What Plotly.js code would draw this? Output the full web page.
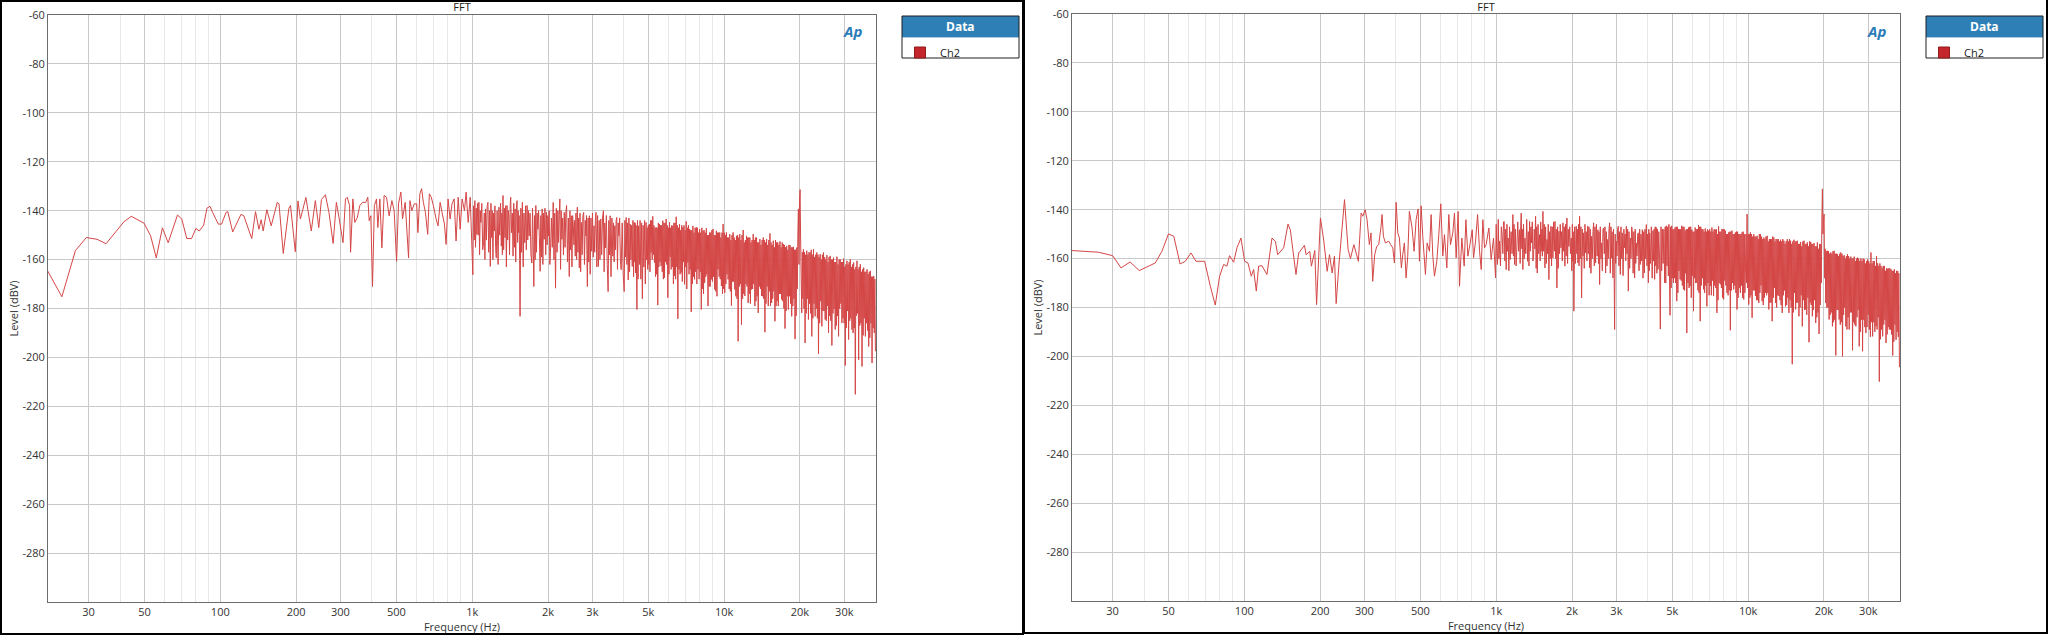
<!DOCTYPE html>
<html>
<head>
<meta charset="utf-8">
<script src="https://cdn.plot.ly/plotly-3.0.1.min.js"></script>
<style>
  html, body { margin:0; padding:0; background:#fff; overflow:hidden; }
  #wrap { position:relative; width:2048px; height:635px; }
  .panel { position:absolute; top:0; width:1024px; height:635px; }
  .frame { position:absolute; pointer-events:none; box-sizing:border-box; border:0 solid #000; }
</style>
</head>
<body>
<div id="wrap">
  <div id="left" class="panel" style="left:0"></div>
  <div id="right" class="panel" style="left:1024px"></div>
  <div class="frame" style="left:0;top:0;width:1024px;height:635px;border-width:2px 2px 2px 2px"></div>
  <div class="frame" style="left:1024px;top:0;width:1024px;height:634px;border-width:0 2px 2px 1px"></div>
</div>
<script>
// values (Hz, dBV)

// left plot, 20 Hz .. 4.6 kHz
var leftLowFreq = [
  20.5, 23.5, 26.6, 29.4, 32.4, 35.2, 41.4, 44.3, 49.8, 52.9,
  55.7, 58.9, 62.1, 67.6, 70.3, 73.6, 76.9, 80, 82.5, 85.9,
  88.5, 91, 93.2, 98.2, 101.2, 105.4, 107.1, 112, 120.8, 124,
  133.3, 138, 142.3, 145.3, 148, 153, 159.3, 168.3, 171, 177.8,
  187.2, 190, 198.5, 203.4, 208, 218.7, 229.7, 238.4, 246, 252,
  261.4, 270, 280.5, 289,
  296, 307, 314, 319, 326, 329, 336, 342, 350, 358,
  367, 378, 385, 390, 396, 402, 409, 417, 422, 430,
  438, 447, 457, 468, 480, 490, 501, 510, 521, 529,
  542, 559, 566, 576, 589, 602, 609, 620, 630, 640,
  652, 666, 676, 688, 701, 719, 732, 746, 759, 776,
  788, 802, 817, 832, 848, 863, 880, 896, 912, 932,
  946, 964, 982, 1006, 1025, 1044, 1063, 1083, 1110, 1130,
  1155, 1180, 1201, 1224, 1246, 1277, 1305, 1325, 1350, 1375,
  1400, 1422, 1453, 1480, 1507, 1530, 1549, 1582, 1617, 1652,
  1683, 1725, 1757, 1789, 1822, 1861, 1896, 1931, 1972, 2009,
  2046, 2097, 2142, 2189, 2229, 2270, 2320, 2370, 2429, 2474,
  2520, 2566, 2614, 2662, 2712, 2771, 2831, 2866, 2919, 2982,
  3046, 3102, 3170, 3239, 3319, 3381, 3465, 3529, 3616, 3683,
  3751, 3821, 3904, 4013, 4087, 4164, 4241, 4320, 4400, 4454,
  4508, 4578
];
var leftLowLevel = [
  -164.1, -175.2, -156.3, -151, -151.7, -153.5, -144.6, -142.3, -145.1, -150.3,
  -159.3, -147, -153.1, -141.8, -143.4, -151.4, -151.4, -147.3, -148.3, -145.9,
  -139, -138.2, -140.7, -145.5, -145.5, -140.7, -140.4, -148.7, -141.5, -142.1,
  -151.4, -140.4, -147.6, -143.7, -148.3, -139.6, -146.2, -136.6, -137.2, -157.5,
  -139, -137.9, -156.8, -136, -143.4, -134.6, -148.3, -135.9, -146.9, -135.5,
  -133.5, -140.7, -153.4, -136.6,
  -142.8, -153.1, -135.2, -134.5, -137.9, -157, -135.2, -144.8, -142.8, -137.9,
  -136.6, -136.6, -134.5, -144.1, -142.1, -171, -137.9, -135.2, -146.9, -135.2,
  -155.2, -133.8, -134.5, -142.1, -135.9, -140, -160.7, -137.2, -132.4, -143.4,
  -136.6, -159.3, -135.9, -140, -137.2, -137.2, -149, -133.1, -131, -136.6,
  -140.7, -149.7, -133.1, -134.5, -137.9, -143.4, -146.2, -136.6, -140.7, -145.5,
  -153.8, -135.2, -143.4, -137.2, -135.2, -152.4, -134.5, -147.6, -135.2, -140,
  -132.4, -144.8, -134.5, -166.2, -135.9, -149.7, -136.6, -144.8, -153.1, -139.3,
  -136.6, -162.8, -140, -148.3, -159.3, -138.6, -154.5, -133.8, -151, -137.9,
  -143.4, -134.5, -158.6, -139.3, -135.9, -149, -183.2, -136.6, -153.1, -137.9,
  -150.3, -161.4, -171, -137.9, -147.6, -164.8, -139.3, -151.7, -140.7, -150.3,
  -156.6, -136.6, -171.7, -140, -135.2, -151.7, -140.7, -137.9, -166.9, -142.1,
  -146.2, -158.6, -138.6, -163.4, -144.8, -140.7, -150.3, -171, -142.1, -156.6,
  -146.2, -140.7, -162.8, -143.4, -140, -155.2, -173.1, -142.1, -158.6, -146.2,
  -142.8, -150.3, -164.1, -173.1, -142.8, -168.3, -145.5, -162.8, -144.8, -165.5,
  -180.4, -146.2
];
// left plot, extra columns in the dense 1 kHz .. 4.9 kHz part
var leftMidFreq = [
  1012, 1019, 1031, 1038, 1050, 1057, 1070, 1076, 1092, 1101,
  1117, 1123, 1138, 1147, 1163, 1172, 1187, 1194, 1209, 1216,
  1231, 1239, 1256, 1267, 1286, 1296, 1312, 1318, 1333, 1342,
  1358, 1367, 1383, 1392, 1407, 1415, 1432, 1443, 1462, 1471,
  1489, 1498, 1515, 1522, 1536, 1543, 1560, 1571, 1594, 1605,
  1629, 1640, 1662, 1673, 1697, 1711, 1736, 1746, 1768, 1778,
  1800, 1811, 1835, 1848, 1873, 1884, 1908, 1919, 1945, 1958,
  1984, 1997, 2021, 2034, 2063, 2080, 2112, 2127, 2158, 2173,
  2202, 2216, 2243, 2256, 2287, 2303, 2337, 2353, 2390, 2409,
  2444, 2459, 2489, 2505, 2535, 2551, 2582, 2598, 2630, 2646,
  2679, 2695, 2732, 2751, 2791, 2811, 2843, 2854, 2884, 2901,
  2940, 2961, 3003, 3025, 3065, 3083, 3125, 3147, 3193, 3216,
  3266, 3292, 3340, 3360, 3409, 3437, 3486, 3508, 3558, 3587,
  3638, 3661, 3706, 3728, 3774, 3798, 3849, 3876, 3940, 3977,
  4038, 4062, 4113, 4138, 4190, 4215, 4267, 4294, 4347, 4373,
  4418, 4436, 4472, 4490, 4531, 4555,
  4610, 4640, 4672, 4705, 4738, 4770, 4803, 4836, 4868
];
var leftMidLevel = [
  -138, -152, -155, -139, -137, -150, -158, -140, -137, -156,
  -141, -160, -152, -138, -157, -140, -137, -151, -160, -141,
  -138, -155, -140, -162, -150, -137, -141, -158, -156, -139,
  -138, -163, -152, -140, -158, -138, -149, -141, -137, -155,
  -161, -139, -153, -140, -142, -160, -139, -157, -163, -141,
  -138, -156, -152, -140, -141, -158, -139, -153, -142, -160,
  -157, -141, -140, -151, -142, -159, -162, -141, -139, -158,
  -154, -142, -140, -162, -143, -155, -160, -141, -139, -157,
  -153, -142, -164, -140, -143, -158, -155, -141, -161, -143,
  -140, -156, -163, -142, -154, -144, -141, -160, -157, -143,
  -141, -165, -158, -142, -162, -144, -142, -158, -143, -161,
  -166, -143, -141, -159, -157, -144, -163, -142, -144, -160,
  -158, -143, -165, -145, -142, -162, -144, -158, -167, -143,
  -145, -161, -156, -144, -164, -145, -143, -160, -145, -166,
  -144, -159, -162, -145, -143, -165, -160, -146, -144, -167,
  -161, -145, -146, -163, -144, -168,
  -162, -144, -168, -145, -176, -146, -163, -144, -170
];

// right plot, 20 Hz .. 4.8 kHz
var rightLowFreq = [
  20.5, 26.4, 30, 32.4, 35.2, 38.3, 44.3, 47.1, 50, 52.5,
  55.6, 58.3, 61.4, 64.3, 69.6, 73.3, 76.7, 79.8, 82.8, 85.3,
  87.4, 90.7, 93.5, 97, 100.3, 103.4, 106.6, 108.9, 111.6, 114,
  117.5, 123, 128.8, 132.8, 135.7, 143.3, 149.1, 152.3, 160.4, 164.4,
  173.3, 175.9, 181.9, 184.7, 190.5, 193.6, 200.6, 206.9, 213.3, 217.9,
  223.3, 228, 231.6, 237.3, 249.9, 258.3, 263.9, 272.3, 283.7,
  291, 295.5, 301.8, 307.1, 313.7, 318.5, 323.4, 329.4, 335.5, 341.7,
  349.1, 352.3, 356.7, 363.3, 374.5, 381.4, 388.5, 394.5, 400.6, 406.7,
  412.8, 420.4, 425.6, 432.1, 438.8, 445.5, 452.3, 463.6, 472.1, 480.9,
  489.8, 495.8, 503.4, 511.2, 523.8, 532, 543.4, 551.7, 560.2, 568.8,
  581.1, 591.8, 602.7, 613.9, 623.4, 636.8, 648.5, 658.5, 672.7, 683,
  693.5, 706.3, 715, 730.5, 746.3, 758, 772, 788.7, 803.2, 813,
  828.1, 843.6, 859.1, 872.2, 885.2, 898.8, 912.6, 935.1, 955.3, 976,
  994.1, 1012.3, 1031, 1056.5, 1075.8, 1095.8, 1116, 1136.8, 1165, 1182.8,
  1208.3, 1238.2, 1257.2, 1276.5, 1300.1, 1332.5, 1357, 1382, 1407.5, 1433.6,
  1455.7, 1487, 1509.8, 1533, 1561.7, 1590.4, 1619.1, 1649, 1679.5, 1711.3,
  1741.9, 1774.3, 1807.4, 1840.6, 1874, 1908.6, 1943.9, 1985.8, 2016.3, 2034.7,
  2078.7, 2111.2, 2143.4, 2183.1, 2223.5, 2264.6, 2306.1, 2349, 2392.3, 2436.7,
  2481.8, 2535, 2574, 2621.6, 2670, 2719.2, 2769.4, 2820.6, 2873.4, 2908.4,
  2952.5, 2998, 3053.5, 3109.8, 3167.1, 3235.4, 3285.2, 3346.7, 3408.1, 3470.8,
  3545.8, 3600.3, 3668.3, 3734, 3803.5, 3874.4, 3945.6, 4018.6, 4068,
  4193, 4257, 4323, 4390, 4484, 4567, 4665, 4737, 4825
];
var rightLowLevel = [
  -156.7, -157.4, -158.8, -163.8, -161.4, -164.9, -161.8, -157, -149.9, -150.9,
  -162.2, -161.1, -157.7, -161.1, -161.1, -171.3, -179, -167.2, -162.4, -163.1,
  -158.8, -161.5, -155.6, -151.6, -161.1, -161.8, -167.2, -164.5, -173.3, -163.1,
  -162.9, -166.5, -151.6, -152.9, -158.4, -155.6, -145.9, -148.2, -166.5, -157.7,
  -154.6, -158.4, -157, -163.1, -156.7, -178.8, -143.4, -152.9, -165.2, -158.4,
  -165.9, -159, -178.4, -163.1, -135.9, -156.3, -160, -154.3, -161.1,
  -141.4, -142.7, -140, -144.1, -154.3, -149.5, -169.3, -158.4, -155, -154.3,
  -146.8, -142, -150.9, -153.6, -152.9, -154.3, -155.6, -161.8, -137, -149.5,
  -151.6, -163.8, -158.4, -153.6, -167.9, -159, -140.7, -147.5, -157, -144.1,
  -139.7, -161.1, -138.4, -150.9, -166.5, -153.6, -157, -142, -159, -167.2,
  -161.1, -150.2, -137.6, -159, -150.2, -163.8, -142, -154.3, -149.5, -141.4,
  -159.7, -140.7, -171.3, -151.6, -163.1, -144.1, -159, -153.6, -148.2, -159.7,
  -152.9, -142, -157, -164.5, -144.1, -155.6, -154.3, -147.5, -160.4, -151.6,
  -167.9, -162.4, -152.9, -150.9, -144.8, -164.5, -151.6, -160.4, -142, -162.4,
  -155, -148.2, -141.4, -164.5, -151.6, -161.1, -144.8, -153.6, -159, -142.7,
  -165.9, -150.2, -157, -140.7, -163.8, -152.2, -168.6, -146.8, -159.7, -144.8,
  -172, -148.8, -155.6, -145.4, -163.1, -143.4, -155, -151.6, -161.1, -181.5,
  -146.8, -161.8, -142.7, -176.1, -149.5, -157.7, -146.8, -163.8, -150.9, -145.4,
  -161.8, -148.2, -170.6, -153.6, -147.5, -165.9, -152.2, -145.4, -159.7, -167.9,
  -189, -152.9, -146.8, -166.5, -149.5, -155.6, -146.8, -173.3, -151.6, -148.8,
  -167.9, -153.6, -149.5, -162.4, -148.2, -165.9, -146.1, -169.9, -149.5,
  -148.6, -168.5, -147.3, -164.4, -188.8, -147.9, -169.9, -146.6, -167.1
];
// right plot, extra columns in the dense 1 kHz .. 4.9 kHz part
var rightMidFreq = [
  1000, 1006, 1019, 1025, 1040, 1048, 1063, 1069, 1082, 1089,
  1103, 1109, 1123, 1130, 1146, 1156, 1171, 1177, 1191, 1200,
  1218, 1228, 1245, 1251, 1264, 1270, 1284, 1292, 1311, 1322,
  1341, 1349, 1365, 1374, 1391, 1399, 1416, 1425, 1441, 1448,
  1466, 1476, 1495, 1502, 1518, 1525, 1543, 1552, 1571, 1581,
  1600, 1609, 1629, 1639, 1659, 1669, 1690, 1701, 1722, 1732,
  1753, 1763, 1785, 1796, 1818, 1830, 1852, 1863, 1886, 1897,
  1920, 1932, 1958, 1972, 1996, 2006, 2022, 2028, 2049, 2064,
  2090, 2100, 2122, 2133, 2157, 2170, 2197, 2210, 2237, 2251,
  2278, 2292, 2320, 2335, 2363, 2378, 2407, 2422, 2452, 2467,
  2500, 2517, 2548, 2561, 2590, 2606, 2638, 2654, 2686, 2703,
  2736, 2753, 2786, 2804, 2838, 2856, 2885, 2897, 2923, 2938,
  2968, 2983, 3017, 3035, 3072, 3091, 3129, 3148, 3190, 3213,
  3252, 3269, 3306, 3326, 3367, 3388, 3429, 3450, 3496, 3521,
  3564, 3582, 3623, 3646, 3690, 3712, 3757, 3780, 3827, 3851,
  3898, 3922, 3970, 3994, 4035, 4052,
  4099, 4130, 4162,
  4214, 4236, 4279, 4301, 4345, 4368, 4421, 4453, 4512, 4539,
  4600, 4632, 4689, 4713, 4766, 4796, 4850, 4876
];
var rightMidLevel = [
  -146, -158, -144, -160, -163, -147, -158, -145, -161, -148,
  -146, -157, -165, -147, -149, -158, -159, -146, -148, -163,
  -145, -157, -162, -147, -156, -148, -146, -160, -158, -144,
  -149, -163, -157, -147, -145, -161, -148, -156, -164, -147,
  -146, -158, -161, -145, -148, -159, -157, -146, -147, -162,
  -158, -146, -149, -160, -163, -147, -145, -157, -160, -148,
  -147, -164, -158, -146, -149, -161, -157, -147, -146, -159,
  -162, -148, -147, -158, -165, -146, -149, -160, -147, -162,
  -158, -148, -146, -163, -160, -147, -148, -159, -164, -146,
  -149, -161, -158, -147, -148, -166, -160, -149, -163, -147,
  -146, -159, -162, -149, -147, -160, -165, -148, -158, -147,
  -149, -163, -160, -148, -166, -147, -149, -161, -148, -164,
  -150, -162, -159, -148, -163, -149, -147, -160, -167, -148,
  -150, -161, -158, -148, -149, -164, -160, -147, -166, -149,
  -148, -162, -159, -150, -165, -148, -150, -161, -168, -149,
  -148, -160, -163, -150, -148, -165,
  -162, -147, -168,
  -161, -148, -147, -163, -166, -148, -149, -160, -147, -165,
  -162, -148, -147, -170, -163, -147, -146, -168
];

// dense upper band, 4.9 kHz .. 40 kHz: three interleaved column sets, read on both plots
var bandFreq = [
  4901, 4977, 5053, 5131, 5210, 5291, 5372, 5455, 5539, 5624,
  5712, 5800, 5889, 5980, 6072, 6166, 6261, 6357, 6455, 6555,
  6655, 6758, 6862, 6968, 7075, 7184, 7295, 7407, 7521, 7637,
  7757, 7876, 7998, 8121, 8246, 8374, 8503, 8634, 8767, 8902,
  9040, 9179, 9321, 9465, 9611, 9759, 9909, 10062, 10217, 10375,
  10534, 10697, 10862, 11029, 11199, 11372, 11547, 11725, 11906, 12089,
  12275, 12464, 12657, 12852, 13050, 13251, 13456, 13663, 13874, 14088,
  14304, 14525, 14749, 14976, 15207, 15442, 15680, 15921, 16167, 16416,
  16672, 16929, 17190, 17455, 17724, 17998, 18275, 18557, 18843, 19134,
  19428, 19728, 20032, 20341, 20654, 20973, 21296, 21625, 21958, 22297,
  22643, 22992, 23346, 23706, 24072, 24443, 24820, 25202, 25591, 25985,
  26383, 26790, 27203, 27623, 28049, 28481, 28920, 29366, 29819, 30279,
  30748, 31222, 31703, 32192, 32689, 33193, 33704, 34224, 34752, 35288,
  35832, 36385, 36946, 37515, 38094, 38681, 39278, 39883
];
var bandFreqB = [
  4926, 5002, 5079, 5157, 5237, 5318, 5399, 5483, 5567, 5653,
  5741, 5830, 5919, 6011, 6103, 6197, 6293, 6389, 6488, 6588,
  6689, 6792, 6897, 7004, 7111, 7221, 7332, 7445, 7559, 7676,
  7797, 7916, 8039, 8162, 8288, 8417, 8546, 8678, 8812, 8947,
  9086, 9226, 9369, 9513, 9660, 9809, 9960, 10113, 10269, 10428,
  10588, 10752, 10917, 11085, 11256, 11430, 11606, 11785, 11967, 12151,
  12338, 12528, 12722, 12918, 13117, 13319, 13525, 13733, 13945, 14160,
  14377, 14599, 14824, 15052, 15285, 15521, 15760, 16002, 16249, 16500,
  16757, 17015, 17278, 17544, 17814, 18090, 18368, 18652, 18939, 19232,
  19527, 19829, 20134, 20445, 20759, 21080, 21405, 21735, 22070, 22411,
  22758, 23109, 23465, 23827, 24195, 24568, 24947, 25331, 25722, 26118,
  26518, 26927, 27342, 27764, 28192, 28626, 29068, 29516, 29971, 30433,
  30905, 31381, 31865, 32356, 32856, 33362, 33876, 34399, 34929, 35468,
  36015, 36571, 37134, 37706, 38288, 38878, 39478
];
var bandFreqC = [
  4951, 5028, 5105, 5184, 5264, 5345, 5427, 5511, 5596, 5682,
  5771, 5860, 5950, 6041, 6134, 6229, 6325, 6422, 6521, 6622,
  6723, 6827, 6932, 7040, 7148, 7258, 7370, 7483, 7598, 7715,
  7837, 7957, 8080, 8204, 8331, 8460, 8590, 8723, 8857, 8993,
  9133, 9273, 9417, 9562, 9710, 9859, 10011, 10165, 10322, 10482,
  10642, 10807, 10973, 11142, 11314, 11489, 11666, 11845, 12028, 12213,
  12401, 12592, 12787, 12984, 13184, 13387, 13594, 13803, 14017, 14233,
  14451, 14674, 14900, 15130, 15363, 15600, 15841, 16085, 16333, 16585,
  16843, 17103, 17367, 17634, 17906, 18183, 18463, 18748, 19037, 19331,
  19628, 19931, 20238, 20550, 20866, 21189, 21515, 21848, 22184, 22526,
  22876, 23228, 23586, 23950, 24320, 24694, 25075, 25461, 25855, 26252,
  26655, 27066, 27483, 27908, 28338, 28774, 29218, 29668, 30126, 30590,
  31065, 31543, 32030, 32524, 33026, 33535, 34051, 34576, 35110, 35651,
  36201, 36760, 37326, 37902, 38487, 39080, 39683
];
var leftBandLevel = [
  -144.8, -164, -145.5, -157.1, -142.3, -161.2, -146.8, -178.6, -145.5, -162.6,
  -144.1, -167.4, -143.4, -175.6, -144.8, -164, -146.2, -166.7, -142.5, -184.2,
  -145.5, -165.3, -146.8, -170.1, -144.4, -161.2, -147.5, -181.4, -146.2, -168.1,
  -146.8, -164, -147.5, -180.4, -148.2, -169.5, -147.2, -179, -148.9, -168.1,
  -147.5, -172.2, -148.2, -164, -148.9, -170.8, -145.5, -173.6, -148.9, -168.1,
  -149.6, -178.8, -148.9, -172.2, -150.3, -193.4, -149.6, -186.6, -147.9, -174.9,
  -150.3, -177.7, -151, -172.2, -149.6, -179, -151, -181.8, -151.6, -174.9,
  -151, -189.7, -151.6, -179, -149.3, -177.7, -152.3, -185.2, -153, -179,
  -152.6, -176.3, -153.7, -188.2, -154.4, -180.4, -154.1, -183.2, -154.8, -192.5,
  -155.1, -139.3, -131.4, -181.8, -155.8, -194.1, -156.4, -184.5, -157.1, -191.4,
  -155.8, -183.2, -157.1, -198.6, -157.8, -187.3, -157.1, -184.5, -158.2, -190,
  -158.5, -195.1, -159.2, -188.6, -158.8, -191.4, -159.9, -185.9, -159.6, -203.3,
  -160.5, -192.7, -159.9, -188.6, -161.2, -215.1, -160.5, -201, -161.9, -203.7,
  -163.3, -191.4, -164, -195.5, -164.6, -202.3, -166.7, -197.5
];
var leftBandB = [
  -160, -146, -165, -144, -158, -147, -166, -145, -161, -146,
  -168, -145, -162, -147, -159, -146, -170, -145, -163, -147,
  -166, -146, -161, -148, -172, -146, -164, -148, -167, -147,
  -170, -149, -165, -147, -174, -149, -166, -150, -171, -148,
  -167, -150, -175, -149, -168, -149, -172, -150, -166, -151,
  -173, -150, -169, -152, -176, -151, -170, -150, -174, -152,
  -171, -151, -178, -152, -170, -151, -175, -153, -172, -152,
  -176, -153, -171, -152, -179, -154, -173, -152, -177, -154,
  -174, -153, -180, -155, -175, -154, -178, -155, -176, -156,
  -172, -162, -152, -157, -180, -158, -176, -157, -182, -158,
  -178, -158, -184, -159, -177, -158, -181, -160, -179, -159,
  -185, -160, -180, -161, -183, -160, -178, -161, -186, -162,
  -181, -161, -184, -162, -188, -163, -182, -163, -186, -164,
  -184, -165, -189, -165, -186, -167, -190
];
var leftBandC = [
  -147, -162, -144, -160, -146, -167, -147, -163, -146, -165,
  -145, -161, -146, -166, -147, -163, -145, -168, -146, -164,
  -148, -169, -146, -163, -147, -166, -148, -170, -149, -165,
  -147, -168, -149, -172, -148, -167, -150, -171, -149, -169,
  -150, -173, -149, -167, -151, -174, -149, -170, -151, -172,
  -152, -169, -151, -175, -150, -171, -152, -176, -153, -170,
  -151, -174, -153, -172, -152, -177, -153, -171, -154, -175,
  -152, -178, -154, -173, -153, -176, -155, -179, -153, -174,
  -155, -177, -154, -181, -156, -175, -155, -179, -156, -183,
  -150, -136, -168, -176, -157, -182, -158, -178, -156, -184,
  -159, -180, -158, -186, -160, -181, -159, -185, -161, -183,
  -160, -182, -161, -187, -162, -180, -161, -184, -163, -188,
  -162, -185, -163, -190, -164, -183, -164, -187, -165, -191,
  -165, -186, -166, -192, -167, -188, -168
];
var rightBandLevel = [
  -183.2, -146.6, -169.9, -147.3, -177.4, -147.9, -168.5, -146.6, -172.6, -148.6,
  -190.4, -147.3, -171.2, -148.2, -181.5, -147.3, -169.9, -146.3, -185.6, -147.9,
  -172.6, -147.7, -179.5, -148.6, -171.2, -147.3, -175.3, -148.2, -182.2, -146.8,
  -170.5, -147.9, -176.7, -148.6, -174, -149.3, -189.3, -148.6, -172.6, -149.3,
  -180.8, -150, -174, -149.3, -176.7, -166, -141.8, -178.8, -149.3, -184.2,
  -150, -175.3, -150.7, -178.1, -150, -177.4, -151.4, -174, -150.7, -180.8,
  -152.1, -185.6, -151.4, -178.1, -152.1, -175.3, -152.3, -182.2, -152.7, -179.5,
  -152.1, -182.2, -152.7, -203.2, -152.3, -180.8, -152.7, -183.6, -153.2, -187.7,
  -152.7, -180.8, -153.4, -194.2, -153.2, -183.6, -153.7, -186.3, -153.4, -190.8,
  -154.1, -131.5, -141.8, -178.1, -156.8, -184.9, -157.5, -187.7, -156.8, -199.6,
  -158.2, -184.9, -157.5, -200, -158.6, -187.7, -158.2, -189, -159.2, -197.5,
  -159.2, -187.7, -159.6, -195.9, -160, -197.9, -160.3, -190.4, -160.3, -189,
  -157.5, -191.8, -161, -187.7, -161.9, -210.3, -163, -191.8, -163, -194.5,
  -164.1, -189, -164.4, -199.6, -164.4, -193.2, -165.1, -204.4
];
var rightBandB = [
  -147, -168, -148, -170, -147, -165, -148, -171, -147, -166,
  -148, -172, -147, -167, -149, -170, -148, -174, -147, -168,
  -149, -171, -148, -175, -149, -169, -148, -172, -150, -170,
  -149, -176, -148, -171, -150, -173, -149, -170, -150, -174,
  -149, -172, -150, -176, -150, -150, -172, -150, -175, -151,
  -173, -151, -177, -150, -171, -152, -176, -151, -174, -152,
  -178, -151, -172, -152, -175, -153, -179, -152, -173, -153,
  -176, -152, -180, -153, -174, -153, -178, -154, -175, -153,
  -181, -154, -176, -153, -179, -154, -177, -155, -182, -154,
  -170, -150, -168, -157, -180, -158, -182, -157, -185, -158,
  -181, -158, -186, -159, -180, -159, -184, -160, -182, -160,
  -187, -160, -181, -161, -185, -160, -188, -161, -183, -162,
  -186, -161, -190, -159, -184, -162, -189, -163, -185, -164,
  -188, -164, -191, -165, -187, -165, -192
];
var rightBandC = [
  -172, -148, -168, -147, -174, -148, -169, -147, -173, -148,
  -170, -147, -176, -149, -168, -148, -173, -147, -171, -148,
  -174, -149, -170, -148, -175, -149, -171, -148, -177, -149,
  -172, -148, -169, -150, -175, -149, -173, -150, -171, -149,
  -176, -150, -171, -149, -174, -170, -150, -176, -150, -173,
  -151, -177, -152, -174, -151, -179, -152, -175, -153, -178,
  -152, -176, -153, -180, -152, -177, -153, -175, -154, -179,
  -153, -177, -154, -182, -153, -178, -154, -180, -155, -177,
  -154, -183, -155, -178, -154, -181, -155, -184, -156, -179,
  -145, -145, -156, -180, -157, -183, -158, -186, -158, -181,
  -159, -187, -158, -183, -160, -189, -159, -182, -160, -186,
  -161, -184, -160, -190, -161, -185, -162, -188, -161, -192,
  -162, -186, -163, -189, -163, -193, -164, -187, -165, -191,
  -164, -189, -165, -194, -166, -190, -166
];

var freqTicks = [30, 50, 100, 200, 300, 500, 1000, 2000, 3000, 5000, 10000, 20000, 30000];
var freqTickText = ['30', '50', '100', '200', '300', '500', '1k', '2k', '3k', '5k', '10k', '20k', '30k'];
var freqMinor = [40, 60, 70, 80, 90, 400, 600, 700, 800, 900, 4000, 6000, 7000, 8000, 9000];
var levelTicks = [-60, -80, -100, -120, -140, -160, -180, -200, -220, -240, -260, -280];
var levelTickText = ['-60', '-80', '-100', '-120', '-140', '-160', '-180', '-200', '-220', '-240', '-260', '-280'];
var seriesName = 'Ch2';
var plotTitle = 'FFT';

var ML = 48, PW = 828, PH = 587, FH = 635;

// put the column sets of one plot together, ordered by frequency
function joinColumns(freqSets, levelSets) {
  var pts = [];
  for (var s = 0; s < freqSets.length; s++) {
    for (var i = 0; i < freqSets[s].length; i++) pts.push([freqSets[s][i], levelSets[s][i]]);
  }
  pts.sort(function(a, b) { return a[0] - b[0]; });
  return {x: pts.map(function(p) { return p[0]; }), y: pts.map(function(p) { return p[1]; })};
}

function makePanel(id, data, top) {
  function px(x) { return (x - ML) / PW; }
  function py(y) { return 1 - (y - top) / PH; }

  var trace = {
    x: data.x, y: data.y, type: 'scatter', mode: 'lines',
    line: {color: 'rgb(212,70,70)', width: 1, simplify: false},
    showlegend: false, hoverinfo: 'skip'
  };
  // legend swatch only (square like the AP legend)
  var key = {
    x: [null], y: [null], type: 'scatter', mode: 'markers', name: seriesName,
    marker: {symbol: 'square', size: 11, color: '#c4262b', line: {color: '#8e1b1f', width: 1}}
  };

  var layout = {
    width: 1024, height: FH,
    margin: {l: ML, r: 1024 - ML - PW, t: top, b: FH - top - PH, pad: 0},
    paper_bgcolor: '#fff', plot_bgcolor: '#fff',
    font: {family: '"Open Sans", "Noto Sans", sans-serif', size: 11, color: '#333'},
    title: {text: plotTitle, x: 0.5, xref: 'paper', xanchor: 'center',
            y: 1 - 7 / FH, yref: 'container', yanchor: 'middle',
            font: {size: 11, color: '#222'}},
    xaxis: {
      type: 'log', range: [Math.log10(20.7), Math.log10(40100)],
      tickmode: 'array', tickvals: freqTicks, ticktext: freqTickText,
      ticks: '', showgrid: true, gridcolor: '#c9c9c9', gridwidth: 1,
      minor: {tickmode: 'array', tickvals: freqMinor, showgrid: true, gridcolor: '#e8e8e8', ticks: ''},
      showline: true, linecolor: '#6c6c6c', linewidth: 1, mirror: true, zeroline: false,
      tickfont: {size: 11, color: '#333'},
      title: {text: 'Frequency (Hz)', font: {size: 11, color: '#333'}, standoff: 2}
    },
    yaxis: {
      range: [-300, -60], tickmode: 'array', tickvals: levelTicks, ticktext: levelTickText,
      ticks: '', showgrid: true, gridcolor: '#c9c9c9', gridwidth: 1,
      showline: true, linecolor: '#6c6c6c', linewidth: 1, mirror: true, zeroline: false,
      tickfont: {size: 11, color: '#333'},
      title: {text: 'Level (dBV)', font: {size: 11, color: '#333'}, standoff: 1}
    },
    showlegend: true,
    legend: {x: px(900), y: py(38), xanchor: 'left', yanchor: 'top',
             bgcolor: 'rgba(0,0,0,0)', borderwidth: 0, itemsizing: 'trace',
             font: {size: 11, color: '#222'}},
    shapes: [
      {type: 'rect', xref: 'paper', yref: 'paper', x0: px(902), x1: px(1019), y0: py(16), y1: py(37),
       fillcolor: '#2f7fb7', line: {width: 0}},
      {type: 'line', xref: 'paper', yref: 'paper', x0: px(902), x1: px(1019), y0: py(37.5), y1: py(37.5),
       line: {color: '#a9cbe5', width: 1}},
      {type: 'rect', xref: 'paper', yref: 'paper', x0: px(902), x1: px(1019), y0: py(16), y1: py(58),
       line: {color: '#1e1e1e', width: 1}}
    ],
    annotations: [
      {text: '<b>Data</b>', xref: 'paper', yref: 'paper', x: px(960.5), y: py(26.5),
       xanchor: 'center', yanchor: 'middle', showarrow: false, font: {size: 12, color: '#fff'}},
      {text: '<b><i>Ap</i></b>', xref: 'paper', yref: 'paper', x: px(852), y: py(31),
       xanchor: 'center', yanchor: 'middle', showarrow: false, font: {size: 15, color: '#2c7cb8'}}
    ]
  };

  Plotly.newPlot(id, [trace, key], layout, {staticPlot: true, displayModeBar: false});
}

makePanel('left', joinColumns(
  [leftLowFreq, leftMidFreq, bandFreq, bandFreqB, bandFreqC],
  [leftLowLevel, leftMidLevel, leftBandLevel, leftBandB, leftBandC]), 15);
makePanel('right', joinColumns(
  [rightLowFreq, rightMidFreq, bandFreq, bandFreqB, bandFreqC],
  [rightLowLevel, rightMidLevel, rightBandLevel, rightBandB, rightBandC]), 14);
</script>
</body>
</html>
